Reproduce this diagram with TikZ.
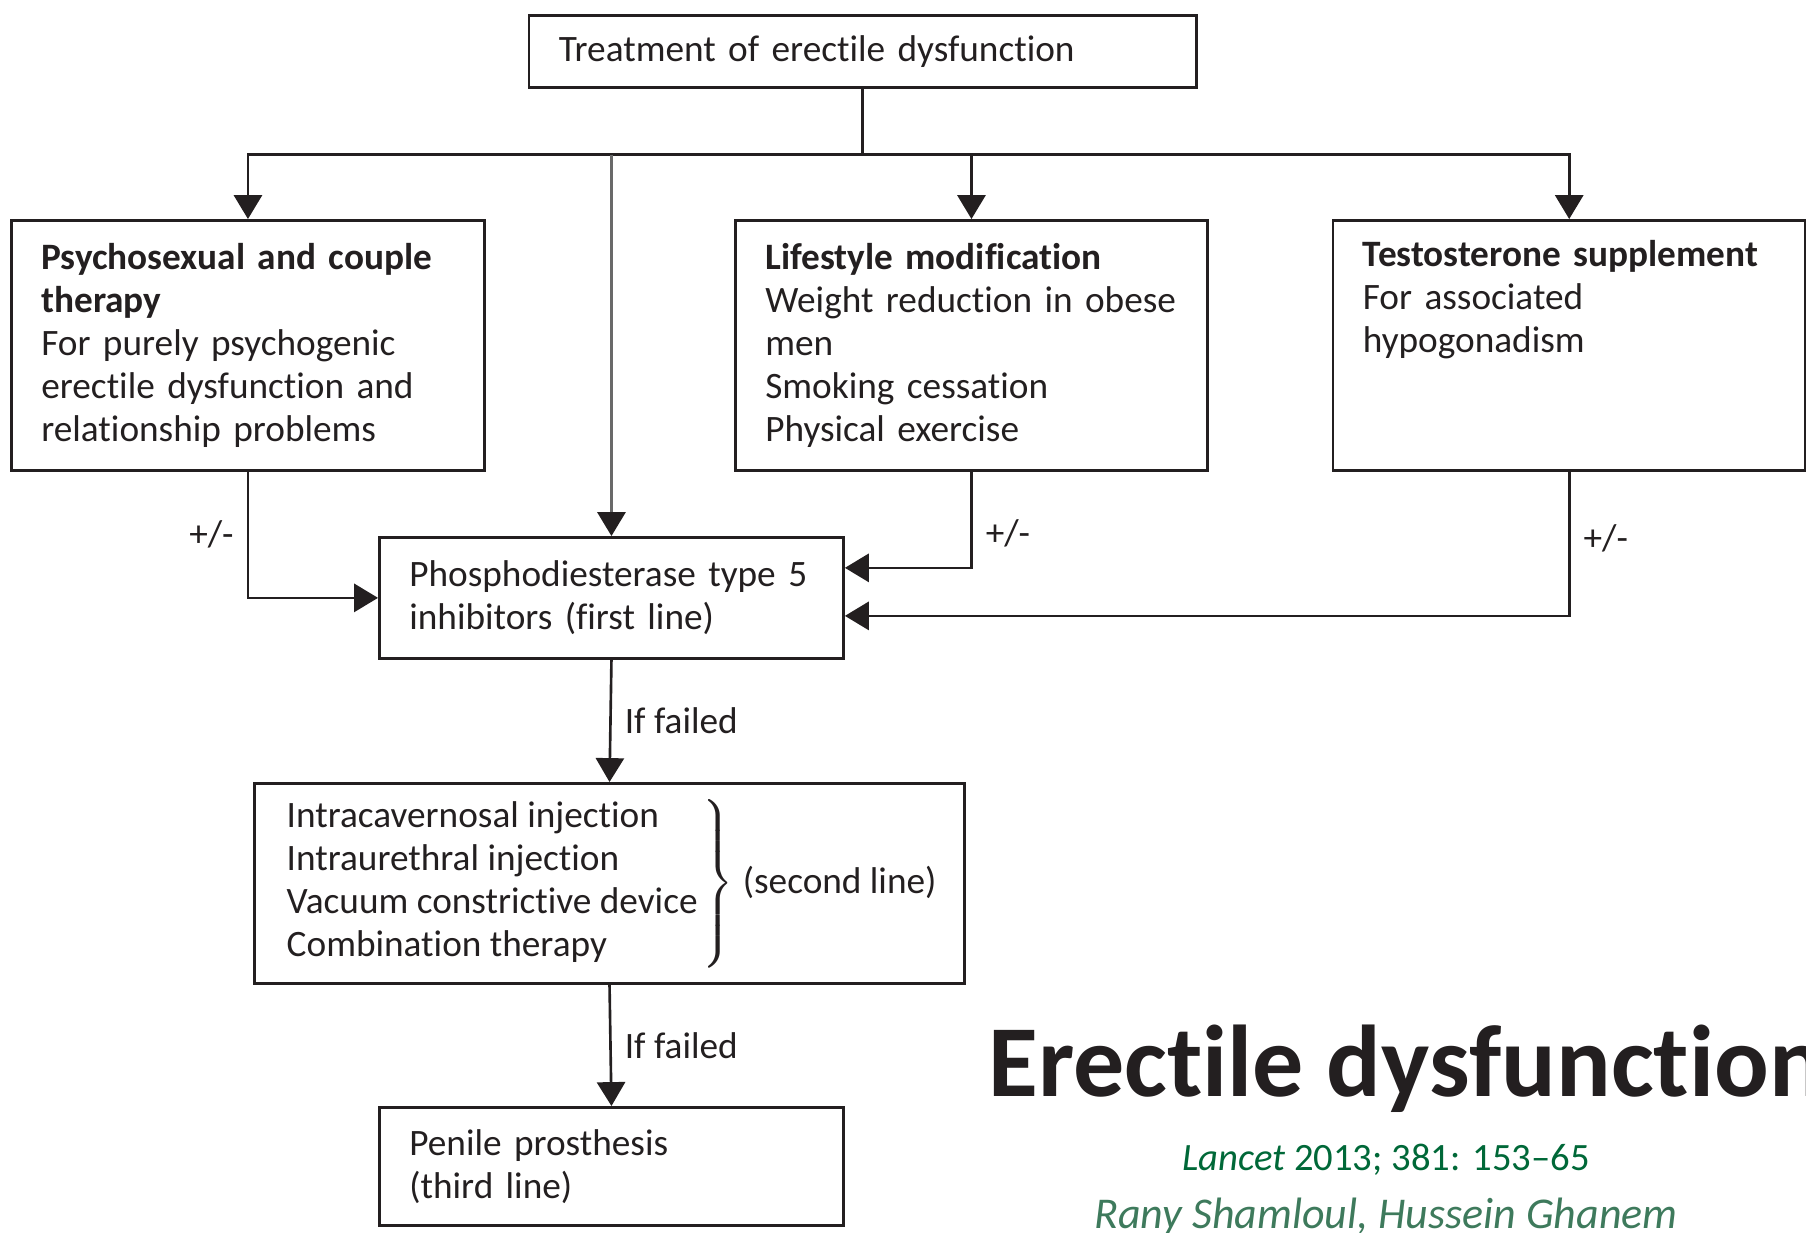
\documentclass[tikz,border=0pt]{standalone}
\usepackage{fontspec}
\setmainfont{Carlito}[Ligatures=NoCommon]
\usepackage{tikz}
\usetikzlibrary{arrows.meta}
\usetikzlibrary{calc}
\usepackage{xcolor}
\definecolor{ink}{RGB}{35,31,32}
\definecolor{linegrey}{RGB}{105,105,105}
\definecolor{lancetgreen}{RGB}{0,104,56}
\definecolor{authorgreen}{RGB}{62,122,92}
\newcommand{\boxfont}{\fontsize{10.6}{12.2}\selectfont}

\begin{document}
\begin{tikzpicture}[x=0.01cm,y=-0.01cm,color=ink,line width=0.75pt,
    box/.style={draw,anchor=north west,align=left,inner xsep=3mm,inner ysep=0pt,font=\boxfont},
    tip/.style={-{Triangle[length=6.8pt,width=8pt]}},
    greytip/.style={draw=linegrey,-{Triangle[length=6.8pt,width=8pt,color=ink]}},
    lbl/.style={font=\boxfont,inner sep=1.3mm}]
  \useasboundingbox (0,0) rectangle (1806,1232);
  \begin{scope}[every node/.style={box}]
    \node[minimum width=6.67cm,text width=6.07cm,minimum height=0.72cm] (treat) at (527.5,14) {Treatment of erectile dysfunction};
    \node[minimum width=4.73cm,text width=4.13cm,minimum height=2.5cm] (psy) at (10,219)
      {\textbf{Psychosexual and couple}\\\textbf{therapy}\\For purely psychogenic\\erectile dysfunction and\\relationship problems};
    \node[minimum width=4.72cm,text width=4.12cm,minimum height=2.5cm] (life) at (734,219)
      {\textbf{Lifestyle modification}\\Weight reduction in obese\\men\\Smoking cessation\\Physical exercise};
    \node[minimum width=4.725cm,text width=4.125cm,minimum height=2.5cm] (testo) at (1331.5,219)
      {\textbf{Testosterone supplement}\\For associated\\hypogonadism\\\mbox{}\\\strut};
    \node[minimum width=4.64cm,text width=4.04cm,minimum height=1.21cm] (pde) at (378,536)
      {Phosphodiesterase type 5\\inhibitors (first line)};
    \node[inner xsep=2mm,minimum width=7.1cm,minimum height=2cm] (second) at (253,782)
      {$\left.\begin{tabular}{@{}l@{}}Intracavernosal injection\\Intraurethral injection\\Vacuum constrictive device\\Combination therapy\end{tabular}\kern0.5mm\right\}$\kern0.9mm(second line)};
    \node[minimum width=4.64cm,text width=4.04cm,minimum height=1.18cm] (penile) at (378,1106)
      {Penile prosthesis\\(third line)};
  \end{scope}
  \coordinate (split) at ($(treat.south)+(0,66)$);
  \begin{scope}
    \draw (treat.south) -- (split);
    \draw[tip] (split) -| (psy.north);
    \draw[tip] (split) -| (life.north);
    \draw[tip] (split) -| (testo.north);
    \draw[greytip] (pde.north |- split) -- (pde.north);
    \draw[tip] (psy.south) |- node[lbl,pos=0.25,left]{+/-} (pde.west);
    \draw[tip] (life.south) |- node[lbl,pos=0.32,right]{+/-} ([yshift=3mm]pde.east);
    \draw[tip] (testo.south) |- node[lbl,pos=0.23,right]{+/-} ([yshift=-1.8mm]pde.east);
    \draw[tip] (pde.south) -- node[lbl,right]{If failed} (second.north);
    \draw[tip] (second.south) -- node[lbl,right]{If failed} (penile.north);
  \end{scope}
  \begin{scope}[every node/.style={inner sep=0pt}]
    \node[anchor=base west,font=\fontsize{29}{34}\selectfont\bfseries] (title) at (987,1096) {Erectile dysfunction};
    \node[anchor=base,font=\fontsize{11}{13}\selectfont,text=lancetgreen] (cite) at (1386,1170) {\textit{Lancet} 2013; 381: 153–65};
    \node[anchor=base,font=\fontsize{12.5}{15}\selectfont\itshape,text=authorgreen] (authors) at (1386,1228) {Rany Shamloul, Hussein Ghanem};
  \end{scope}
\end{tikzpicture}
\end{document}
